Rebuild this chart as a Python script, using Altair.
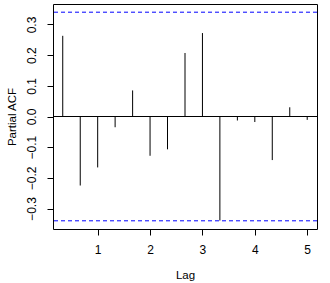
import altair as alt
import pandas as pd

lags = [0.333, 0.667, 1.0, 1.333, 1.667, 2.0, 2.333, 2.667, 3.0, 3.333, 3.667, 4.0, 4.333, 4.667, 5.0]
pacf = [0.263, -0.225, -0.166, -0.035, 0.085, -0.128, -0.107, 0.207, 0.272, -0.339, -0.013, -0.018, -0.142, 0.030, -0.011]
ci = 0.34
x_ticks = [1, 2, 3, 4, 5]
y_ticks = [-0.3, -0.2, -0.1, 0.0, 0.1, 0.2, 0.3]

df = pd.DataFrame({"lag": lags, "pacf": pacf, "zero": [0.0] * len(lags)})
ci_df = pd.DataFrame({"y": [ci, -ci]})
zero_df = pd.DataFrame({"y": [0.0]})

FONT = "Liberation Sans"

xscale = alt.Scale(domain=[0.147, 5.187], nice=False, zero=False)
yscale = alt.Scale(domain=[-0.3667, 0.3667], nice=False, zero=False)

yaxis = alt.Axis(values=y_ticks, format=".1f", grid=False, domain=False,
                 tickSize=6, tickColor="black", labelColor="black",
                 labelFont=FONT, labelFontSize=12, labelAngle=-90,
                 labelAlign="center", labelBaseline="bottom", labelPadding=9,
                 labelOverlap=False,
                 titleFont=FONT, titleFontSize=11.5, titleFontWeight="normal",
                 titleColor="black", titlePadding=8)

spikes = alt.Chart(df).mark_rule(color="black", strokeWidth=1).encode(
    x=alt.X("lag:Q", scale=xscale, title="Lag",
            axis=alt.Axis(values=x_ticks, format="d", grid=False, domain=False,
                          tickSize=6, tickColor="black", labelColor="black",
                          labelFont=FONT, labelFontSize=12, labelPadding=9,
                          labelOverlap=False,
                          titleFont=FONT, titleFontSize=11.5, titleFontWeight="normal",
                          titleColor="black", titlePadding=14)),
    y=alt.Y("zero:Q", scale=yscale, title="Partial ACF", axis=yaxis),
    y2="pacf:Q",
)

zero_line = alt.Chart(zero_df).mark_rule(color="black", strokeWidth=1).encode(
    y=alt.Y("y:Q", scale=yscale, title="Partial ACF", axis=yaxis)
)

ci_lines = alt.Chart(ci_df).mark_rule(color="blue", strokeWidth=1, strokeDash=[4, 3]).encode(
    y=alt.Y("y:Q", scale=yscale, title="Partial ACF", axis=yaxis)
)

chart = alt.layer(spikes, zero_line, ci_lines).properties(
    width=264, height=225,
    autosize=alt.AutoSizeParams(type="none"),
    padding={"left": 53, "top": 4, "right": 13, "bottom": 54},
    background="white",
).configure_view(stroke="black", strokeWidth=1).configure_axis(labelOverlap=False)

chart.save("out.html", embed_options={"renderer": "svg", "actions": False})
